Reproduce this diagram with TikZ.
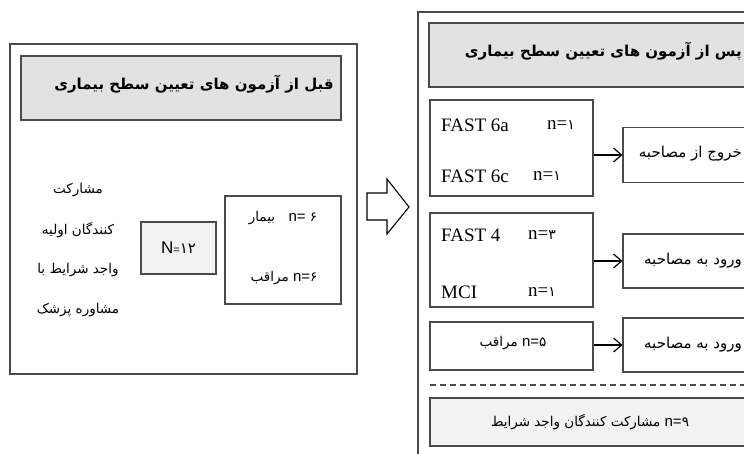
\documentclass[tikz,border=0pt]{standalone}
\usepackage{fontspec}
\setmainfont{Liberation Serif}
\newfontfamily\ar[Script=Arabic]{DejaVu Sans}
\newfontfamily\sans{Liberation Sans}
\TeXXeTstate=1
\usetikzlibrary{arrows.meta}
\definecolor{lc}{HTML}{4A4A4A}
\definecolor{hdr}{HTML}{E2E2E2}
\definecolor{lite}{HTML}{F2F2F2}
\begin{document}
\begin{tikzpicture}[x=1pt,y=-1pt,
  box/.style={draw=lc, line width=1.1pt, inner sep=0pt},
  txt/.style={inner sep=0pt, text=black},
  fa/.style={txt, font=\ar\fontsize{13.5}{16}\selectfont},
  fo/.style={txt, font=\ar\fontsize{15}{18}\selectfont},
  fat/.style={txt, font=\ar\bfseries\fontsize{15}{18}\selectfont},
  ft/.style={txt, font=\fontsize{19}{21}\selectfont},
  conn/.style={draw=black, line width=1.2pt, -{Straight Barb[length=8pt,width=14pt,line width=1.2pt]}}
]
\useasboundingbox (0,0) rectangle (744,453);
\clip (0,0) rectangle (744,453);
% ---------- left panel ----------
\node[box, minimum width=347pt, minimum height=330pt] (outerL) at (183.5,209) {};
\node[box, fill=hdr, minimum width=320pt, minimum height=64pt] (hdrL) at (181,88) {};
\node[fat] (titleL) at (194,84) {\beginR قبل از آزمون های تعیین سطح بیماری\endR};
\node[fa] (l1) at (78,190) {\beginR مشارکت\endR};
\node[fa] (l2) at (78,230) {\beginR کنند‌گان اولیه\endR};
\node[fa] (l3) at (78,270) {\beginR واجد شرایط با\endR};
\node[fa] (l4) at (78,310) {\beginR مشاوره پزشک\endR};
\node[box, fill=lite, minimum width=75pt, minimum height=52pt] (nbox) at (178.5,248) {};
\node[txt, font=\fontsize{17}{19}\selectfont\sans] (ntxt) at (nbox) {N{\fontsize{11}{13}\selectfont=}{\ar\fontsize{15}{17}\selectfont ۱۲}};
\node[box, minimum width=116pt, minimum height=108pt] (grp) at (283,250) {};
\node[fa] (g1) at (283,218) {\beginR بیمار\endR\quad{\sans\fontsize{15}{17}\selectfont n= }{\ar ۶}};
\node[fa] (g2) at (284,278) {\beginR مراقب\endR\ {\sans\fontsize{15}{17}\selectfont n=}{\ar ۶}};
% ---------- big arrow ----------
\draw[draw=black, line width=1.1pt, line join=miter, fill=white]
  (367,193) -- (387,193) -- (387,179) -- (409,207) -- (387,234) -- (387,220) -- (367,220) -- cycle;
% ---------- right panel ----------
\node[box, minimum width=350pt, minimum height=470pt] (outerR) at (593,247) {};
\node[box, fill=hdr, minimum width=331pt, minimum height=64pt] (hdrR) at (594.5,55) {};
\node[fat, anchor=east] (titleR) at (742,51) {\beginR پس از آزمون های تعیین سطح بیماری\endR};
% row 1
\node[box, minimum width=163pt, minimum height=96pt] (b1) at (511.5,148) {};
\node[ft, anchor=west] (b1a) at (441,125) {FAST 6a};
\node[ft, anchor=west] (b1an) at (547,125) {n={\ar\fontsize{14}{16}\selectfont ۱}};
\node[ft, anchor=west] (b1c) at (441,176) {FAST 6c};
\node[ft, anchor=west] (b1cn) at (533,176) {n={\ar\fontsize{14}{16}\selectfont ۱}};
\node[box, minimum width=137pt, minimum height=55pt] (o1) at (691.5,155) {};
\node[fo, anchor=east] (o1t) at (742,154) {\beginR خروج از مصاحبه\endR};
\draw[conn] (b1.east |- o1.west) -- (o1.west);
% row 2
\node[box, minimum width=163pt, minimum height=94pt] (b2) at (511.5,260) {};
\node[ft, anchor=west] (b2a) at (441,235) {FAST 4};
\node[ft, anchor=west] (b2an) at (528,235) {n={\ar\fontsize{14}{16}\selectfont ۳}};
\node[ft, anchor=west] (b2m) at (441,292) {MCI};
\node[ft, anchor=west] (b2mn) at (528,292) {n={\ar\fontsize{14}{16}\selectfont ۱}};
\node[box, minimum width=137pt, minimum height=54pt] (o2) at (691.5,261) {};
\node[fo, anchor=east] (o2t) at (742,261) {\beginR ورود به مصاحبه\endR};
\draw[conn] (b2.east |- o2.west) -- (o2.west);
% row 3
\node[box, minimum width=163pt, minimum height=48pt] (b3) at (511.5,346) {};
\node[fa] (b3t) at (513,343) {\beginR مراقب\endR\ {\sans\fontsize{15}{17}\selectfont n=}{\ar ۵}};
\node[box, minimum width=137pt, minimum height=54pt] (o3) at (691.5,345) {};
\node[fo, anchor=east] (o3t) at (742,345) {\beginR ورود به مصاحبه\endR};
\draw[conn] (b3.east |- o3.west) -- (o3.west);
% dashed separator
\coordinate (dL) at (430,385);
\coordinate (dR) at (744,385);
\draw[draw=lc, line width=1.1pt, dash pattern=on 6pt off 4pt] (dL) -- (dR);
% bottom
\node[box, fill=lite, minimum width=330pt, minimum height=48pt] (fin) at (595,422) {};
\node[fa] (fint) at (590,422) {\beginR مشارکت کنند‌گان واجد شرایط\endR\ {\sans\fontsize{15}{17}\selectfont n=}{\ar ۹}};
\end{tikzpicture}
\end{document}
